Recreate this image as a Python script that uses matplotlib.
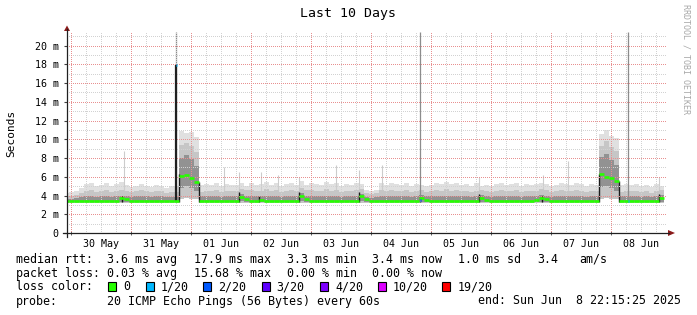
import numpy as np
import matplotlib
matplotlib.use("Agg")
import matplotlib.pyplot as plt
from matplotlib.patches import Polygon, Rectangle
from matplotlib.lines import Line2D

W, H = 697, 315

# time buckets: 2 hours each, hours relative to 30 May 00:00
bucket_hours = 2
t_start = -3

# one row per (roughly) day, 12 buckets of 2 h
median = [
    3.4, 3.4, 3.4, 3.4, 3.4, 3.4, 3.4, 3.4, 3.4, 3.4, 3.45, 3.7,
    3.6, 3.4, 3.4, 3.4, 3.4, 3.4, 3.4, 3.4, 3.4, 3.4, 3.4, 6.1,
    6.2, 5.9, 5.4, 3.4, 3.4, 3.4, 3.4, 3.4, 3.4, 3.4, 3.4, 3.8,
    3.6, 3.4, 3.4, 3.55, 3.4, 3.4, 3.4, 3.4, 3.4, 3.4, 3.4, 4.0,
    3.6, 3.4, 3.4, 3.4, 3.4, 3.4, 3.4, 3.4, 3.4, 3.4, 3.4, 3.9,
    3.6, 3.4, 3.4, 3.4, 3.4, 3.4, 3.4, 3.4, 3.4, 3.4, 3.4, 3.7,
    3.5, 3.4, 3.4, 3.4, 3.4, 3.4, 3.4, 3.4, 3.4, 3.4, 3.4, 3.7,
    3.5, 3.4, 3.4, 3.4, 3.4, 3.4, 3.4, 3.4, 3.4, 3.4, 3.5, 3.7,
    3.6, 3.4, 3.4, 3.4, 3.4, 3.4, 3.4, 3.4, 3.4, 3.4, 3.4, 6.3,
    6.0, 5.9, 5.5, 3.4, 3.4, 3.4, 3.4, 3.4, 3.4, 3.4, 3.4, 3.7,
]
smoke_max = [
    4.3, 4.4, 4.5, 4.8, 5.2, 5.3, 5.0, 5.1, 5.3, 5.0, 5.2, 5.4,
    5.1, 4.9, 5.0, 5.2, 5.0, 4.9, 5.1, 5.0, 4.8, 5.0, 5.0, 10.9,
    10.7, 10.8, 10.2, 5.1, 5.2, 5.1, 5.3, 5.0, 5.2, 5.1, 5.1, 5.3,
    5.0, 5.3, 5.1, 5.2, 5.4, 5.1, 5.3, 5.0, 5.2, 5.3, 5.1, 5.5,
    5.1, 5.3, 5.2, 5.1, 5.4, 5.2, 5.3, 5.0, 5.2, 5.1, 5.3, 5.2,
    4.6, 4.5, 4.6, 5.3, 5.1, 5.3, 5.2, 5.1, 5.3, 5.0, 5.2, 5.1,
    5.0, 5.1, 5.3, 5.2, 5.4, 5.2, 5.3, 5.1, 5.2, 5.0, 5.3, 5.0,
    5.1, 5.0, 5.2, 5.3, 5.1, 5.2, 5.3, 5.0, 5.2, 5.1, 5.2, 5.3,
    5.2, 5.0, 5.1, 5.3, 5.2, 5.1, 5.3, 5.2, 5.0, 5.2, 5.1, 10.6,
    11.0, 10.4, 10.1, 5.1, 5.2, 5.1, 5.2, 5.0, 5.1, 4.9, 5.2, 5.0,
]
smoke_q90 = [
    3.9, 4.0, 4.1, 4.3, 4.5, 4.6, 4.4, 4.5, 4.6, 4.4, 4.5, 4.6,
    4.5, 4.4, 4.5, 4.6, 4.5, 4.4, 4.5, 4.5, 4.3, 4.4, 4.4, 9.4,
    9.6, 9.3, 8.6, 4.4, 4.5, 4.5, 4.6, 4.4, 4.5, 4.5, 4.5, 4.7,
    4.6, 4.6, 4.5, 4.5, 4.7, 4.5, 4.6, 4.4, 4.5, 4.6, 4.5, 4.8,
    4.6, 4.6, 4.5, 4.5, 4.7, 4.5, 4.6, 4.4, 4.5, 4.5, 4.6, 4.7,
    4.3, 4.2, 4.3, 4.6, 4.5, 4.6, 4.5, 4.5, 4.6, 4.4, 4.5, 4.6,
    4.4, 4.5, 4.6, 4.5, 4.7, 4.5, 4.6, 4.5, 4.5, 4.4, 4.5, 4.6,
    4.5, 4.4, 4.5, 4.6, 4.5, 4.5, 4.6, 4.4, 4.5, 4.5, 4.5, 4.7,
    4.6, 4.4, 4.5, 4.6, 4.5, 4.5, 4.6, 4.5, 4.4, 4.5, 4.5, 9.3,
    9.8, 9.2, 8.7, 4.4, 4.5, 4.5, 4.5, 4.4, 4.5, 4.3, 4.5, 4.6,
]
smoke_q75 = [
    3.6, 3.6, 3.7, 3.8, 3.9, 3.9, 3.8, 3.9, 3.9, 3.8, 3.9, 4.0,
    3.9, 3.8, 3.9, 3.9, 3.9, 3.8, 3.9, 3.9, 3.8, 3.8, 3.8, 8.0,
    8.3, 7.9, 7.2, 3.9, 3.9, 3.9, 3.9, 3.8, 3.9, 3.9, 3.9, 4.2,
    4.0, 3.9, 3.9, 4.0, 4.0, 3.9, 3.9, 3.8, 3.9, 3.9, 3.9, 4.3,
    4.0, 3.9, 3.9, 3.9, 4.0, 3.9, 3.9, 3.8, 3.9, 3.9, 3.9, 4.2,
    3.8, 3.7, 3.8, 3.9, 3.9, 3.9, 3.9, 3.9, 3.9, 3.8, 3.9, 4.1,
    3.9, 3.9, 3.9, 3.9, 4.0, 3.9, 3.9, 3.9, 3.9, 3.8, 3.9, 4.1,
    3.9, 3.8, 3.9, 3.9, 3.9, 3.9, 3.9, 3.8, 3.9, 3.9, 4.0, 4.1,
    4.0, 3.8, 3.9, 3.9, 3.9, 3.9, 3.9, 3.9, 3.8, 3.9, 3.9, 8.1,
    8.4, 7.8, 7.3, 3.9, 3.9, 3.9, 3.9, 3.8, 3.9, 3.8, 3.9, 4.1,
]
smoke_q25 = [
    3.3, 3.3, 3.3, 3.3, 3.3, 3.3, 3.3, 3.3, 3.3, 3.3, 3.3, 3.35,
    3.35, 3.3, 3.3, 3.3, 3.3, 3.3, 3.3, 3.3, 3.3, 3.3, 3.3, 4.8,
    5.0, 4.8, 4.5, 3.3, 3.3, 3.3, 3.3, 3.3, 3.3, 3.3, 3.3, 3.4,
    3.35, 3.3, 3.3, 3.35, 3.3, 3.3, 3.3, 3.3, 3.3, 3.3, 3.3, 3.4,
    3.35, 3.3, 3.3, 3.3, 3.3, 3.3, 3.3, 3.3, 3.3, 3.3, 3.3, 3.4,
    3.35, 3.3, 3.3, 3.3, 3.3, 3.3, 3.3, 3.3, 3.3, 3.3, 3.3, 3.35,
    3.3, 3.3, 3.3, 3.3, 3.3, 3.3, 3.3, 3.3, 3.3, 3.3, 3.3, 3.35,
    3.3, 3.3, 3.3, 3.3, 3.3, 3.3, 3.3, 3.3, 3.3, 3.3, 3.3, 3.35,
    3.35, 3.3, 3.3, 3.3, 3.3, 3.3, 3.3, 3.3, 3.3, 3.3, 3.3, 4.9,
    5.0, 4.8, 4.5, 3.3, 3.3, 3.3, 3.3, 3.3, 3.3, 3.3, 3.3, 3.35,
]
smoke_min = [
    3.15, 3.15, 3.15, 3.15, 3.15, 3.15, 3.15, 3.15, 3.15, 3.15, 3.15, 3.2,
    3.2, 3.15, 3.15, 3.15, 3.15, 3.15, 3.15, 3.15, 3.15, 3.15, 3.15, 3.6,
    3.7, 3.6, 3.6, 3.15, 3.15, 3.15, 3.15, 3.15, 3.15, 3.15, 3.15, 3.2,
    3.2, 3.15, 3.15, 3.2, 3.15, 3.15, 3.15, 3.15, 3.15, 3.15, 3.15, 3.2,
    3.2, 3.15, 3.15, 3.15, 3.15, 3.15, 3.15, 3.15, 3.15, 3.15, 3.15, 3.2,
    3.2, 3.15, 3.15, 3.15, 3.15, 3.15, 3.15, 3.15, 3.15, 3.15, 3.15, 3.2,
    3.15, 3.15, 3.15, 3.15, 3.15, 3.15, 3.15, 3.15, 3.15, 3.15, 3.15, 3.2,
    3.15, 3.15, 3.15, 3.15, 3.15, 3.15, 3.15, 3.15, 3.15, 3.15, 3.15, 3.2,
    3.2, 3.15, 3.15, 3.15, 3.15, 3.15, 3.15, 3.15, 3.15, 3.15, 3.15, 3.6,
    3.7, 3.6, 3.6, 3.15, 3.15, 3.15, 3.15, 3.15, 3.15, 3.15, 3.15, 3.2,
]

# single-sample outliers (thin light smoke spikes)
spike_hours = [21.2, 61.2, 67.2, 76.0, 82.8, 91.2, 106.0, 115.2, 124.3, 163.1, 188.7, 198.7, 235.2]
spike_tops = [8.7, 7.0, 6.5, 6.5, 6.2, 6.0, 7.3, 6.7, 7.3, 6.0, 6.2, 7.7, 6.0]

# short dark smoke streaks at the daily bumps and level changes
dark_hours = [20.4, 43.0, 51.0, 67.2, 75.2, 91.2, 115.2, 139.6, 163.0, 188.4, 211.0, 219.0, 235.0]
dark_lows = [3.3, 3.3, 3.3, 3.3, 3.3, 3.3, 3.3, 3.3, 3.3, 3.3, 3.3, 3.3, 3.3]
dark_tops = [4.0, 6.3, 5.4, 4.4, 4.0, 4.4, 4.4, 4.1, 4.2, 4.0, 6.3, 5.6, 4.2]

# smoke running off the top of the graph
tall_hours = [42.0, 139.6, 222.8]
tall_median = [17.9, 3.5, 3.4]
tall_loss = ["1/20", "2/20", "1/20"]

loss_labels = ["0", "1/20", "2/20", "3/20", "4/20", "10/20", "19/20"]
loss_colors = ["#26ff00", "#00b8ff", "#0059ff", "#5e00ff", "#7e00ff", "#dd00ff", "#ff0000"]

day_labels = ["30 May", "31 May", "01 Jun", "02 Jun", "03 Jun", "04 Jun", "05 Jun", "06 Jun", "07 Jun", "08 Jun"]
x_min, x_max = -1.75, 238.25
y_max = 21.5


def fx(x):
    return x / W


def fy(y):
    return 1 - y / H


fig = plt.figure(figsize=(W / 100, H / 100), dpi=100)
fig.patch.set_facecolor("white")
ax = fig.add_axes([fx(67), fy(233), 600 / W, (233 - 31.5) / H])
ax.set_facecolor("white")
for s in ax.spines.values():
    s.set_visible(False)

n = len(median)
t = t_start + bucket_hours * np.arange(n + 1)


def ext(v):
    return np.append(v, v[-1])


ax.fill_between(t, ext(smoke_min), ext(smoke_max), step="post", color="#e0e0e0", lw=0, zorder=1)
ax.fill_between(t, ext(smoke_min), ext(smoke_q90), step="post", color="#c6c6c6", lw=0, zorder=2)
ax.fill_between(t, ext(smoke_q25), ext(smoke_q75), step="post", color="#929292", lw=0, zorder=3)
ax.vlines(spike_hours, 3.3, spike_tops, color="#cccccc", lw=0.8, zorder=1.5)
ax.vlines(dark_hours, dark_lows, dark_tops, color="#1a1a1a", lw=1.0, zorder=4)

# tall lines
ax.vlines(tall_hours, 3.3, y_max, color="#8c8c8c", lw=0.9, zorder=4)
ax.vlines(tall_hours[0], 3.3, tall_median[0], color="#202020", lw=1.6, zorder=5)

# median, one flat segment per bucket
ax.hlines(median, t[:-1], t[1:], color=loss_colors[0], lw=1.9, zorder=6)
for h, m, l in zip(tall_hours, tall_median, tall_loss):
    ax.plot([h - 0.3, h + 0.3], [m, m], color=loss_colors[loss_labels.index(l)], lw=1.9,
            solid_capstyle="butt", zorder=7)

ax.set_xlim(x_min, x_max)
ax.set_ylim(0, y_max)

# dotted grid, drawn over the smoke
dots = (0, (1, 2))
minor_c, major_c = "#d2d2d2", "#e89090"
for h in range(6, 240, 6):
    if h % 24:
        ax.axvline(h, color=minor_c, lw=0.72, ls=dots, zorder=4.5, antialiased=False)
for h in range(0, 240, 24):
    ax.axvline(h, color=major_c, lw=0.72, ls=dots, zorder=4.6, antialiased=False)
for v in range(1, 22):
    c = major_c if v % 2 == 0 else minor_c
    ax.axhline(v, color=c, lw=0.72, ls=dots, zorder=4.5, antialiased=False)

ax.set_yticks(range(0, 21, 2))
ax.set_yticklabels(["0"] + ["%d m" % v for v in range(2, 21, 2)])
ax.set_xticks([12 + 24 * i for i in range(10)])
ax.set_xticklabels(day_labels)
ax.set_xticks(range(0, 240, 24), minor=True)
mono = "DejaVu Sans Mono"
ax.tick_params(axis="y", length=2.5, width=0.8, color="#404040", pad=3.5, labelsize=7.2, direction="out")
ax.tick_params(axis="x", which="major", length=0, pad=4.5, labelsize=7.2)
ax.tick_params(axis="x", which="minor", length=3, width=0.7, color="#606060", direction="inout")
for lab in ax.get_xticklabels() + ax.get_yticklabels():
    lab.set_family(mono)

# axis lines with arrows
fig.add_artist(Line2D([fx(67), fx(67)], [fy(237), fy(29)], color="#202020", lw=0.9))
fig.add_artist(Line2D([fx(63), fx(669)], [fy(233), fy(233)], color="#202020", lw=0.9))
fig.add_artist(Polygon([[fx(64), fy(31)], [fx(70), fy(31)], [fx(67), fy(25.5)]], closed=True,
                       color="#8b1a1a", lw=0))
fig.add_artist(Polygon([[fx(668), fy(230)], [fx(668), fy(236)], [fx(675), fy(233)]], closed=True,
                       color="#8b1a1a", lw=0))

fig.text(fx(348), fy(14), "Last 10 Days", family=mono, fontsize=9.5, ha="center", va="center")
fig.text(fx(11), fy(133), "Seconds", family=mono, fontsize=8, rotation=90, ha="center", va="center")
fig.text(fx(686), fy(59), "RRDTOOL / TOBI OETIKER", family=mono, fontsize=6, rotation=270,
         ha="center", va="center", color="#a8a8a8")

fs = 8.4
rows = [259.3, 273.3, 286.8, 301]
line1 = [(16, "median rtt:"), (107, "3.6 ms avg"), (194, "17.9 ms max"), (287, "3.3 ms min"),
         (372, "3.4 ms now"), (458, "1.0 ms sd"), (537, "3.4"), (579, "am/s")]
line2 = [(16, "packet loss:"), (107, "0.03 % avg"), (194, "15.68 % max"), (287, "0.00 % min"),
         (372, "0.00 % now")]
for x, s in line1:
    fig.text(fx(x), fy(rows[0]), s, family=mono, fontsize=fs, va="center")
for x, s in line2:
    fig.text(fx(x), fy(rows[1]), s, family=mono, fontsize=fs, va="center")

fig.text(fx(16), fy(rows[2]), "loss color:", family=mono, fontsize=fs, va="center")
box_x = [108, 145.7, 203.3, 261.7, 320, 377.7, 442.3]
for bx, lab, col in zip(box_x, loss_labels, loss_colors):
    fig.add_artist(Rectangle((fx(bx), fy(rows[2] + 4.5)), 8 / W, 9 / H, facecolor=col,
                             edgecolor="black", lw=0.8))
    fig.text(fx(bx + 15), fy(rows[2]), lab, family=mono, fontsize=fs, va="center")

fig.text(fx(16), fy(rows[3]), "probe:", family=mono, fontsize=fs, va="center")
fig.text(fx(107), fy(rows[3]), "20 ICMP Echo Pings (56 Bytes) every 60s", family=mono, fontsize=fs,
         va="center")
fig.text(fx(478), fy(rows[3]), "end: Sun Jun  8 22:15:25 2025", family=mono, fontsize=fs, va="center")

fig.savefig("out.png", dpi=100)
